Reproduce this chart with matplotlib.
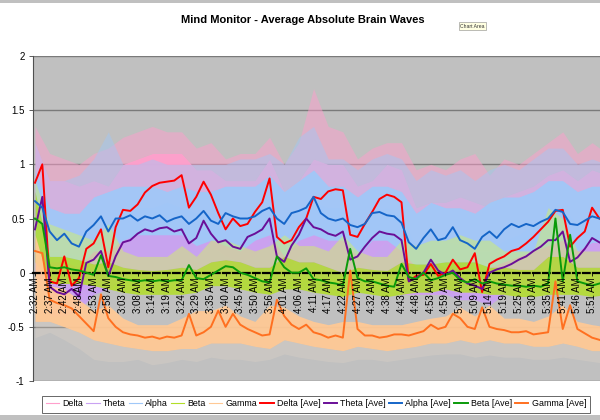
import numpy as np
import matplotlib
matplotlib.use('Agg')
import matplotlib.pyplot as plt
from matplotlib.lines import Line2D
from matplotlib.patches import Rectangle

plt.rcParams['font.family'] = ['Liberation Sans', 'DejaVu Sans']

# ---------------- data ----------------
time_labels = ['2:32 AM', '2:37 AM', '2:42 AM', '2:48 AM', '2:53 AM', '2:58 AM', '3:03 AM',
               '3:08 AM', '3:14 AM', '3:19 AM', '3:24 AM', '3:29 AM', '3:35 AM', '3:40 AM',
               '3:45 AM', '3:50 AM', '3:56 AM', '4:01 AM', '4:06 AM', '4:11 AM', '4:17 AM',
               '4:22 AM', '4:27 AM', '4:32 AM', '4:38 AM', '4:43 AM', '4:48 AM', '4:53 AM',
               '4:59 AM', '5:04 AM', '5:09 AM', '5:14 AM', '5:19 AM', '5:25 AM', '5:30 AM',
               '5:35 AM', '5:41 AM', '5:46 AM', '5:51 AM']

# averages, sampled every half label interval
delta_ave = [0.83, 1.0, -0.08, -0.1, 0.15, -0.12, -0.05, 0.22, 0.27, 0.4, 0.05, 0.42, 0.58, 0.57,
             0.63, 0.74, 0.8, 0.83, 0.84, 0.85, 0.9, 0.6, 0.7, 0.84, 0.72, 0.55, 0.4, 0.5, 0.43,
             0.45, 0.56, 0.65, 0.87, 0.33, 0.27, 0.3, 0.42, 0.5, 0.7, 0.68, 0.75, 0.77, 0.76,
             0.35, 0.33, 0.45, 0.56, 0.68, 0.72, 0.7, 0.65, -0.08, -0.03, -0.02, 0.08, -0.03,
             0.0, 0.12, 0.03, 0.05, 0.18, -0.18, 0.08, 0.12, 0.15, 0.2, 0.22, 0.27, 0.33, 0.4,
             0.47, 0.57, 0.58, 0.24, 0.32, 0.38, 0.6, 0.5]
theta_ave = [0.4, 0.7, -0.13, -0.18, -0.2, -0.15, -0.22, 0.09, 0.12, 0.2, -0.03, 0.15, 0.28,
             0.3, 0.36, 0.4, 0.38, 0.41, 0.42, 0.38, 0.4, 0.27, 0.32, 0.48, 0.36, 0.28, 0.3,
             0.24, 0.22, 0.33, 0.36, 0.4, 0.5, 0.15, 0.1, 0.25, 0.35, 0.5, 0.42, 0.4, 0.36,
             0.34, 0.38, 0.12, 0.15, 0.24, 0.32, 0.38, 0.36, 0.35, 0.3, -0.08, -0.05, 0.0,
             0.12, 0.02, -0.02, 0.02, -0.05, -0.1, -0.12, -0.15, 0.0, 0.03, 0.05, 0.08, 0.12,
             0.15, 0.2, 0.24, 0.3, 0.3, 0.38, 0.1, 0.14, 0.22, 0.32, 0.28]
alpha_ave = [0.66, 0.6, 0.38, 0.3, 0.36, 0.27, 0.24, 0.38, 0.44, 0.52, 0.38, 0.5, 0.5, 0.53,
             0.48, 0.52, 0.5, 0.53, 0.47, 0.5, 0.52, 0.45, 0.5, 0.57, 0.48, 0.45, 0.55, 0.52,
             0.5, 0.5, 0.52, 0.57, 0.6, 0.5, 0.45, 0.55, 0.57, 0.6, 0.7, 0.55, 0.5, 0.48, 0.5,
             0.44, 0.42, 0.45, 0.55, 0.56, 0.53, 0.52, 0.46, 0.28, 0.22, 0.32, 0.4, 0.3, 0.32,
             0.42, 0.3, 0.27, 0.22, 0.33, 0.38, 0.32, 0.4, 0.45, 0.42, 0.45, 0.43, 0.47, 0.5,
             0.58, 0.56, 0.45, 0.44, 0.48, 0.52, 0.5]
beta_ave = [0.5, 0.45, 0.05, 0.04, 0.05, 0.03, 0.02, 0.0, -0.02, 0.16, -0.03, -0.04, -0.06,
            -0.07, -0.08, -0.07, -0.08, -0.07, -0.08, -0.07, -0.07, 0.07, -0.05, -0.06, -0.02,
            0.02, 0.06, 0.05, 0.0, -0.02, -0.05, -0.08, -0.09, 0.15, 0.05, 0.0, 0.0, 0.04,
            -0.06, -0.07, -0.09, -0.1, -0.12, 0.22, -0.05, -0.08, -0.08, -0.1, -0.12, -0.13,
            0.08, -0.04, -0.06, 0.0, -0.07, -0.05, -0.02, 0.0, -0.07, -0.09, -0.06, -0.1,
            -0.08, -0.1, -0.11, -0.12, -0.12, -0.13, -0.12, -0.13, -0.1, 0.5, -0.08, 0.35,
            -0.08, -0.1, -0.12, -0.1]
gamma_ave = [0.2, 0.18, -0.25, -0.28, -0.3, -0.33, -0.4, -0.47, -0.54, -0.2, -0.42, -0.5,
             -0.55, -0.57, -0.58, -0.6, -0.59, -0.61, -0.59, -0.6, -0.58, -0.38, -0.58, -0.55,
             -0.5, -0.35, -0.5, -0.38, -0.48, -0.52, -0.55, -0.58, -0.57, -0.25, -0.4, -0.48,
             -0.52, -0.48, -0.55, -0.57, -0.6, -0.58, -0.6, 0.02, -0.52, -0.58, -0.58, -0.6,
             -0.59, -0.57, -0.57, -0.58, -0.56, -0.54, -0.48, -0.52, -0.5, -0.38, -0.42, -0.5,
             -0.52, -0.32, -0.5, -0.52, -0.53, -0.55, -0.55, -0.54, -0.57, -0.56, -0.55, -0.08,
             -0.52, -0.3, -0.52, -0.56, -0.6, -0.62]

# raw series envelopes, sampled every label interval
delta_lo = [0.3, -0.35, -0.35, -0.3, -0.1, -0.1, 0.25, 0.35, 0.4, 0.4, 0.4, 0.3, 0.25, 0.15,
            0.1, 0.15, 0.3, 0.0, 0.15, 0.3, 0.35, 0.3, 0.0, 0.15, 0.3, -0.2, -0.2, -0.2, -0.2,
            -0.2, -0.2, -0.25, -0.15, -0.1, 0.0, 0.1, 0.1, 0.0, 0.1, 0.1]
delta_hi = [1.2, 0.85, 0.85, 0.8, 0.85, 0.8, 1.0, 1.05, 1.1, 1.1, 1.1, 0.95, 0.95, 0.85, 0.85,
            0.85, 1.05, 0.75, 0.85, 1.05, 1.0, 1.0, 0.8, 0.85, 1.0, 0.95, 0.6, 0.65, 0.65, 0.7,
            0.65, 0.6, 0.7, 0.75, 0.8, 0.9, 0.95, 0.85, 0.95, 0.9]
delta_peak = [1.35, 1.1, 1.05, 1.0, 1.1, 1.15, 1.25, 1.3, 1.35, 1.3, 1.3, 1.15, 1.2, 1.05,
              1.1, 1.1, 1.25, 1.0, 1.2, 1.7, 1.35, 1.3, 1.05, 1.15, 1.2, 1.2, 0.95, 1.0, 0.95,
              1.05, 1.1, 0.9, 1.05, 1.0, 1.1, 1.2, 1.3, 1.1, 1.2, 1.1]
theta_lo = [0.0, -0.4, -0.4, -0.35, -0.2, -0.15, -0.05, 0.0, 0.0, 0.0, 0.0, -0.05, -0.05,
            -0.05, -0.05, -0.05, -0.05, -0.1, -0.05, -0.05, -0.05, -0.05, -0.1, -0.05, -0.05,
            -0.2, -0.2, -0.2, -0.2, -0.25, -0.25, -0.3, -0.2, -0.15, -0.1, -0.05, -0.05,
            -0.15, -0.1, -0.1]
theta_hi = [0.9, 0.2, 0.2, 0.15, 0.35, 0.3, 0.5, 0.6, 0.6, 0.65, 0.6, 0.55, 0.55, 0.5, 0.5,
            0.55, 0.7, 0.4, 0.6, 0.65, 0.6, 0.6, 0.4, 0.55, 0.6, 0.5, 0.25, 0.3, 0.3, 0.25,
            0.2, 0.2, 0.3, 0.35, 0.45, 0.55, 0.6, 0.45, 0.55, 0.5]
alpha_lo = [0.3, 0.1, 0.1, 0.05, 0.2, 0.2, 0.3, 0.35, 0.35, 0.35, 0.35, 0.25, 0.3, 0.25, 0.2,
            0.3, 0.35, 0.15, 0.3, 0.35, 0.3, 0.3, 0.15, 0.3, 0.3, 0.2, 0.05, 0.1, 0.05, 0.05,
            0.0, 0.05, 0.1, 0.15, 0.2, 0.25, 0.3, 0.2, 0.28, 0.28]
alpha_hi = [0.95, 0.6, 0.55, 0.55, 0.7, 0.75, 0.8, 0.8, 0.8, 0.75, 0.8, 0.75, 0.75, 0.8, 0.8,
            0.8, 0.9, 0.75, 0.85, 0.95, 0.8, 0.8, 0.7, 0.8, 0.8, 0.75, 0.55, 0.65, 0.6, 0.6,
            0.55, 0.65, 0.7, 0.7, 0.75, 0.85, 0.85, 0.75, 0.8, 0.8]
alpha_peak = [1.2, 0.85, 0.85, 0.9, 1.05, 1.3, 1.0, 1.0, 1.05, 1.0, 1.0, 1.0, 1.0, 1.0, 1.05,
              1.05, 1.1, 1.0, 1.25, 1.35, 1.05, 1.05, 0.95, 1.05, 1.1, 1.05, 0.85, 0.95, 0.9,
              0.95, 0.85, 0.95, 1.0, 0.95, 1.05, 1.15, 1.15, 1.0, 1.05, 1.0]
beta_lo = [0.1, -0.1, -0.1, -0.1, -0.12, -0.15, -0.18, -0.2, -0.2, -0.2, -0.2, -0.18, -0.12,
           -0.12, -0.15, -0.18, -0.2, -0.15, -0.15, -0.18, -0.2, -0.22, -0.18, -0.2, -0.22,
           -0.2, -0.18, -0.18, -0.15, -0.18, -0.18, -0.2, -0.2, -0.22, -0.22, -0.2, -0.2,
           -0.2, -0.22, -0.2]
beta_hi = [0.75, 0.15, 0.15, 0.12, 0.08, 0.1, 0.05, 0.03, 0.02, 0.03, 0.05, 0.03, 0.1, 0.12,
           0.1, 0.05, 0.05, 0.15, 0.1, 0.1, 0.05, 0.0, 0.05, 0.03, 0.02, 0.1, 0.08, 0.08, 0.1,
           0.1, 0.1, 0.05, 0.05, 0.03, 0.03, 0.15, 0.15, 0.05, 0.05, 0.05]
beta_peak = [0.85, 0.45, 0.4, 0.35, 0.3, 0.45, 0.2, 0.15, 0.15, 0.15, 0.25, 0.15, 0.3, 0.3,
             0.25, 0.2, 0.25, 0.35, 0.25, 0.25, 0.2, 0.35, 0.2, 0.15, 0.15, 0.3, 0.25, 0.3,
             0.3, 0.35, 0.3, 0.3, 0.2, 0.2, 0.2, 0.6, 0.5, 0.2, 0.2, 0.2]
gamma_lo = [-0.45, -0.45, -0.5, -0.55, -0.62, -0.65, -0.68, -0.7, -0.72, -0.72, -0.7, -0.7,
            -0.65, -0.65, -0.65, -0.68, -0.7, -0.62, -0.65, -0.68, -0.7, -0.72, -0.68, -0.7,
            -0.72, -0.7, -0.68, -0.65, -0.65, -0.62, -0.65, -0.62, -0.65, -0.65, -0.68,
            -0.68, -0.65, -0.68, -0.72, -0.72]
gamma_hi = [0.35, -0.12, -0.15, -0.25, -0.35, -0.3, -0.42, -0.48, -0.48, -0.48, -0.42, -0.35,
            -0.35, -0.3, -0.4, -0.45, -0.3, -0.32, -0.4, -0.45, -0.48, -0.45, -0.45, -0.48,
            -0.48, -0.48, -0.45, -0.42, -0.4, -0.32, -0.4, -0.3, -0.42, -0.42, -0.45, -0.4,
            -0.3, -0.45, -0.48, -0.5]
gamma_floor = [-0.6, -0.55, -0.62, -0.7, -0.8, -0.82, -0.82, -0.8, -0.85, -0.83, -0.8, -0.82,
               -0.78, -0.8, -0.8, -0.82, -0.8, -0.75, -0.78, -0.8, -0.82, -0.83, -0.8, -0.8,
               -0.82, -0.8, -0.78, -0.76, -0.75, -0.75, -0.78, -0.76, -0.78, -0.78, -0.8,
               -0.8, -0.78, -0.8, -0.82, -0.84]

legend_labels = ['Delta', 'Theta', 'Alpha', 'Beta', 'Gamma',
                 'Delta [Ave]', 'Theta [Ave]', 'Alpha [Ave]', 'Beta [Ave]', 'Gamma [Ave]']

# ---------------- styling ----------------
raw_colors = ['#ff9fcc', '#c9a2f2', '#a0c8f8', '#b2de28', '#ffc995']
ave_colors = ['#ff0000', '#6a0f98', '#1565c8', '#0a9a0a', '#ff7020']

fig = plt.figure(figsize=(6, 4.2), dpi=100)
fig.patch.set_facecolor('white')
ax = fig.add_axes([33 / 600, 39 / 420, 567 / 600, 325 / 420])
ax.set_facecolor('#c0c0c0')

# axis spines first (set_position resets tick properties)
for s in ['top', 'right']:
    ax.spines[s].set_visible(False)
ax.spines['left'].set_color('#505050')
ax.spines['left'].set_linewidth(0.8)
ax.spines['bottom'].set_position(('data', 0))
ax.spines['bottom'].set_color('black')
ax.spines['bottom'].set_linewidth(1.6)
ax.spines['bottom'].set_linestyle((0, (3, 1.5)))
ax.spines['bottom'].set_zorder(3.5)

t_raw = np.arange(len(delta_hi)) * 1.0
t_ave = np.arange(len(delta_ave)) * 0.5

# raw bands (series order: Delta, Theta, Alpha, Beta, Gamma)
ax.fill_between(t_raw, delta_hi, delta_peak, color=raw_colors[0], alpha=0.5, lw=0, zorder=3.0)
ax.fill_between(t_raw, delta_lo, delta_hi, color=raw_colors[0], alpha=0.97, lw=0, zorder=3.0)
ax.fill_between(t_raw, theta_lo, theta_hi, color=raw_colors[1], alpha=0.95, lw=0, zorder=3.1)
ax.fill_between(t_raw, alpha_hi, alpha_peak, color=raw_colors[2], alpha=0.45, lw=0, zorder=3.2)
ax.fill_between(t_raw, alpha_lo, alpha_hi, color=raw_colors[2], alpha=0.97, lw=0, zorder=3.2)
ax.fill_between(t_raw, beta_hi, beta_peak, color='#d2f06a', alpha=0.5, lw=0, zorder=3.3)
ax.fill_between(t_raw, beta_lo, beta_hi, color=raw_colors[3], alpha=0.85, lw=0, zorder=3.3)
ax.fill_between(t_raw, gamma_floor, gamma_lo, color='#e6d8c8', alpha=0.28, lw=0, zorder=3.4)
ax.fill_between(t_raw, gamma_lo, gamma_hi, color=raw_colors[4], alpha=0.95, lw=0, zorder=3.4)

# averages
for vals, c in zip([delta_ave, theta_ave, alpha_ave, beta_ave, gamma_ave], ave_colors):
    ax.plot(t_ave, vals, color=c, lw=1.4, zorder=4, solid_joinstyle='round')

ax.set_xlim(-0.136, 38.54)
ax.set_ylim(-1, 2)
ax.set_yticks([-1, -0.5, 0, 0.5, 1, 1.5, 2])
ax.set_yticklabels(['-1', '-0.5', '0', '0.5', '1', '1.5', '2'], fontsize=7)
ax.yaxis.grid(True, color='#7a7a7a', lw=1)
ax.yaxis.set_zorder(1)
ax.tick_params(axis='y', length=3, width=0.6, color='#404040', pad=3)

ax.set_xticks(np.arange(len(time_labels)))
ax.set_xticklabels(time_labels, rotation=90, fontsize=7, va='top', ha='center')
ax.tick_params(axis='x', length=2, width=0.6, color='black', pad=1.5)
ax.xaxis.set_zorder(6)

# title and tooltip
fig.text(303 / 600, 1 - 20 / 420, 'Mind Monitor - Average Absolute Brain Waves',
         ha='center', va='center', fontsize=8, fontweight='bold')
fig.text(472 / 600, 1 - 26 / 420, 'Chart Area', ha='center', va='center', fontsize=3.6,
         color='#333333',
         bbox=dict(boxstyle='square,pad=0.25', facecolor='#ffffe1', edgecolor='#888888', lw=0.4))

# legend
handles = [Line2D([], [], color=c, lw=0.8) for c in raw_colors] + \
          [Line2D([], [], color=c, lw=1.4) for c in ave_colors]
leg = fig.legend(handles, legend_labels, loc='center', bbox_to_anchor=(316 / 600, 1 - 404 / 420),
                 ncol=10, fontsize=6.4, frameon=True, fancybox=False, edgecolor='#404040',
                 handlelength=1.5, columnspacing=0.35, handletextpad=0.35, borderpad=0.45)
leg.get_frame().set_linewidth(0.7)

# window chrome bands
fig.patches.append(Rectangle((0, 1 - 3 / 420), 1, 3 / 420, transform=fig.transFigure,
                             facecolor='#c0c0c0', edgecolor='none'))
fig.patches.append(Rectangle((0, 0), 1, 5 / 420, transform=fig.transFigure,
                             facecolor='#c0c0c0', edgecolor='none'))

fig.savefig('out.png', dpi=100)
